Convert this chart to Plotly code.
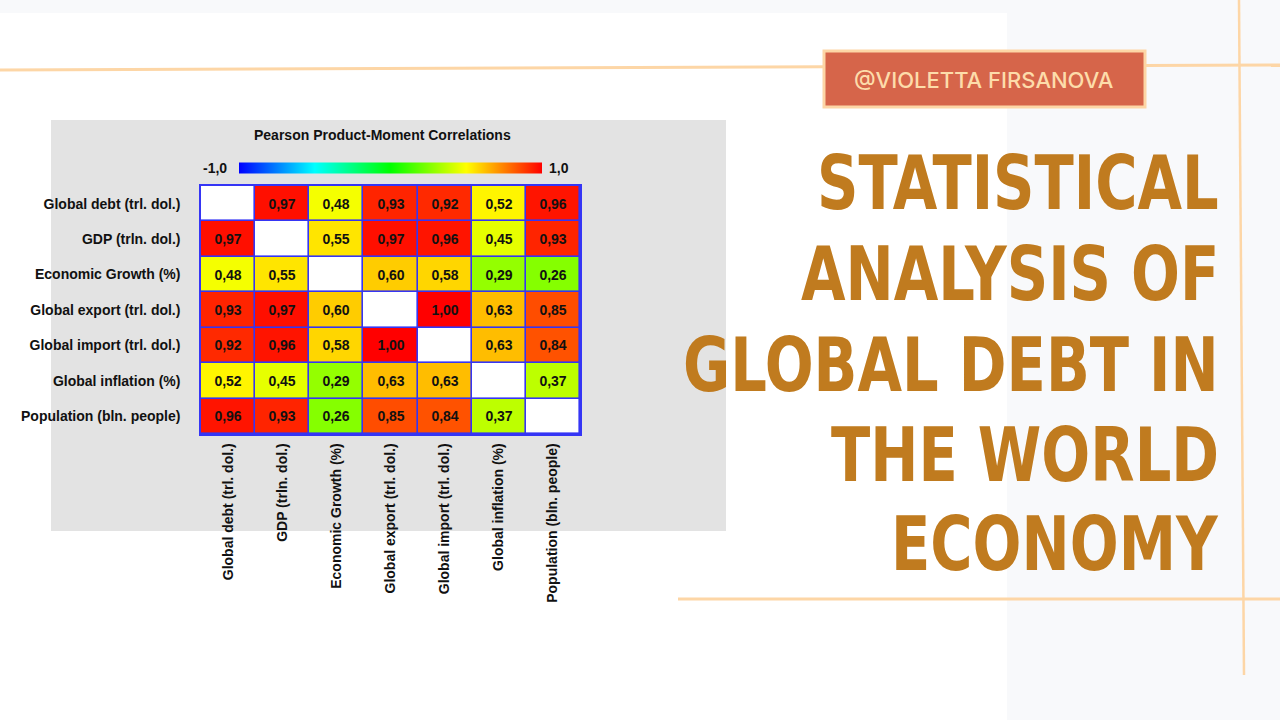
import json
import plotly.graph_objects as go

# ---------------- data ----------------
variables = [
    "Global debt (trl. dol.)",
    "GDP (trln. dol.)",
    "Economic Growth (%)",
    "Global export (trl. dol.)",
    "Global import (trl. dol.)",
    "Global inflation (%)",
    "Population (bln. people)",
]
row_global_debt = [None, 0.97, 0.48, 0.93, 0.92, 0.52, 0.96]
row_gdp = [0.97, None, 0.55, 0.97, 0.96, 0.45, 0.93]
row_growth = [0.48, 0.55, None, 0.60, 0.58, 0.29, 0.26]
row_export = [0.93, 0.97, 0.60, None, 1.00, 0.63, 0.85]
row_import = [0.92, 0.96, 0.58, 1.00, None, 0.63, 0.84]
row_inflation = [0.52, 0.45, 0.29, 0.63, 0.63, None, 0.37]
row_population = [0.96, 0.93, 0.26, 0.85, 0.84, 0.37, None]
corr = [row_global_debt, row_gdp, row_growth, row_export, row_import,
        row_inflation, row_population]

chart_title = "Pearson Product-Moment Correlations"
scale_min_label = "-1,0"
scale_max_label = "1,0"
badge_text = "@VIOLETTA FIRSANOVA"
headline_lines = ["STATISTICAL", "ANALYSIS OF", "GLOBAL DEBT IN", "THE WORLD", "ECONOMY"]

# ---------------- helpers ----------------
W, H = 1280, 720


def px(x):
    return x / W


def py(y):
    return 1 - y / H


def fmt(v):
    return "" if v is None else f"{v:.2f}".replace(".", ",")


text = [[fmt(v) for v in row] for row in corr]
diag = [[1 if i == j else None for j in range(len(variables))] for i in range(len(variables))]
base = [[1 for _ in variables] for _ in variables]

GRID_BLUE = "#3535f5"
LABEL_FONT = "Liberation Sans, Arial, sans-serif"
TITLE_FONT = "DejaVu Sans Condensed, sans-serif"
PEACH = "#fdd6a6"
INK = "#111111"

fig = go.Figure()

# base layer: blue (shows through cell gaps as grid lines)
fig.add_trace(go.Heatmap(
    z=base, x=variables, y=variables,
    colorscale=[[0, GRID_BLUE], [1, GRID_BLUE]], showscale=False,
    hoverinfo="skip",
))
# diagonal: white cells
fig.add_trace(go.Heatmap(
    z=diag, x=variables, y=variables,
    colorscale=[[0, "white"], [1, "white"]], showscale=False,
    xgap=1.6, ygap=1.6, hoverinfo="skip",
))
# correlations
fig.add_trace(go.Heatmap(
    z=corr, x=variables, y=variables, zmin=-1, zmax=1,
    colorscale=[[0, "#0000ff"], [0.25, "#00ffff"], [0.5, "#00ff00"],
                [0.75, "#ffff00"], [1, "#ff0000"]],
    xgap=1.6, ygap=1.6,
    text=text, texttemplate="%{text}",
    textfont=dict(family=LABEL_FONT, size=14, color=INK, weight="bold"),
    colorbar=dict(
        orientation="h", x=px(390), xanchor="center", y=py(168), yanchor="middle",
        len=303 / W, lenmode="fraction", thickness=11, outlinewidth=0,
        showticklabels=False, ticks="", xpad=0, ypad=0,
    ),
    hovertemplate="%{y} / %{x}: %{text}<extra></extra>",
))

shapes = []
# light side panel and top strip
shapes.append(dict(type="rect", xref="paper", yref="paper", x0=px(1007), x1=1, y0=0, y1=1,
                   fillcolor="#f8f9fb", line=dict(width=0), layer="below"))
shapes.append(dict(type="rect", xref="paper", yref="paper", x0=0, x1=1, y0=py(13), y1=1,
                   fillcolor="#f8f9fb", line=dict(width=0), layer="below"))
# grey chart box
shapes.append(dict(type="rect", xref="paper", yref="paper", x0=px(51), x1=px(726),
                   y0=py(531), y1=py(120), fillcolor="#e3e3e3", line=dict(width=0), layer="below"))
# decorative lines
shapes.append(dict(type="line", xref="paper", yref="paper", x0=0, y0=py(70), x1=1, y1=py(65),
                   line=dict(color=PEACH, width=3), layer="above"))
shapes.append(dict(type="line", xref="paper", yref="paper", x0=px(1239), y0=1, x1=px(1244), y1=py(675),
                   line=dict(color=PEACH, width=2.5), layer="above"))
shapes.append(dict(type="line", xref="paper", yref="paper", x0=px(678), y0=py(599), x1=1, y1=py(599),
                   line=dict(color=PEACH, width=3), layer="above"))
# badge
shapes.append(dict(type="rect", xref="paper", yref="paper", x0=px(824), x1=px(1145),
                   y0=py(107), y1=py(51), fillcolor="#d6654a",
                   line=dict(color=PEACH, width=3), layer="above"))

annotations = []
annotations.append(dict(text=f"<b>{chart_title}</b>", x=px(382), y=py(135), xref="paper", yref="paper",
                        showarrow=False, xanchor="center", yanchor="middle",
                        font=dict(family=LABEL_FONT, size=14, color=INK)))
annotations.append(dict(text=f"<b>{scale_min_label}</b>", x=px(229), y=py(168), xref="paper", yref="paper",
                        showarrow=False, xanchor="right", yanchor="middle",
                        font=dict(family=LABEL_FONT, size=14, color=INK)))
annotations.append(dict(text=f"<b>{scale_max_label}</b>", x=px(547), y=py(168), xref="paper", yref="paper",
                        showarrow=False, xanchor="left", yanchor="middle",
                        font=dict(family=LABEL_FONT, size=14, color=INK)))
annotations.append(dict(text=badge_text, x=px(984), y=py(80), xref="paper", yref="paper",
                        showarrow=False, xanchor="center", yanchor="middle",
                        font=dict(family="Inter, sans-serif", size=22, color="#fddcaa", weight=500)))
line_centers = [182, 273, 364, 454, 543]
for line, yc in zip(headline_lines, line_centers):
    annotations.append(dict(text=line, x=px(1221), y=py(yc + 1), xref="paper", yref="paper",
                            showarrow=False, xanchor="right", yanchor="middle",
                            font=dict(family=TITLE_FONT, size=64, color="#c07b1f", weight="bold")))

fig.update_layout(
    width=W, height=H, autosize=False,
    margin=dict(l=0, r=0, t=0, b=0),
    paper_bgcolor="white", plot_bgcolor="white",
    shapes=shapes, annotations=annotations,
    showlegend=False,
    xaxis=dict(domain=[px(201), px(580)], showgrid=False, zeroline=False,
               showline=True, mirror=True, linecolor=GRID_BLUE, linewidth=1.5,
               tickangle=-90, ticks="outside", ticklen=2, tickcolor="rgba(0,0,0,0)",
               tickfont=dict(family=LABEL_FONT, size=14, color=INK, weight="bold"),
               fixedrange=True),
    yaxis=dict(domain=[py(434), py(186)], showgrid=False, zeroline=False, autorange="reversed",
               showline=True, mirror=True, linecolor=GRID_BLUE, linewidth=1.5,
               ticks="outside", ticklen=16, tickcolor="rgba(0,0,0,0)",
               tickfont=dict(family=LABEL_FONT, size=14, color=INK, weight="bold"),
               fixedrange=True),
)

# remove the default page margin and give the headline a taller, condensed look
post_js = """
document.body.style.margin = '0';
var heads = %s;
document.querySelectorAll('.annotation-text').forEach(function (t) {
  if (heads.indexOf(t.textContent) >= 0) {
    t.style.transformBox = 'fill-box';
    t.style.transformOrigin = 'center';
    t.style.transform = 'scaleY(1.18)';
  }
});
""" % json.dumps(headline_lines)

fig.write_html("out.html", post_script=post_js, config={"displayModeBar": False})
